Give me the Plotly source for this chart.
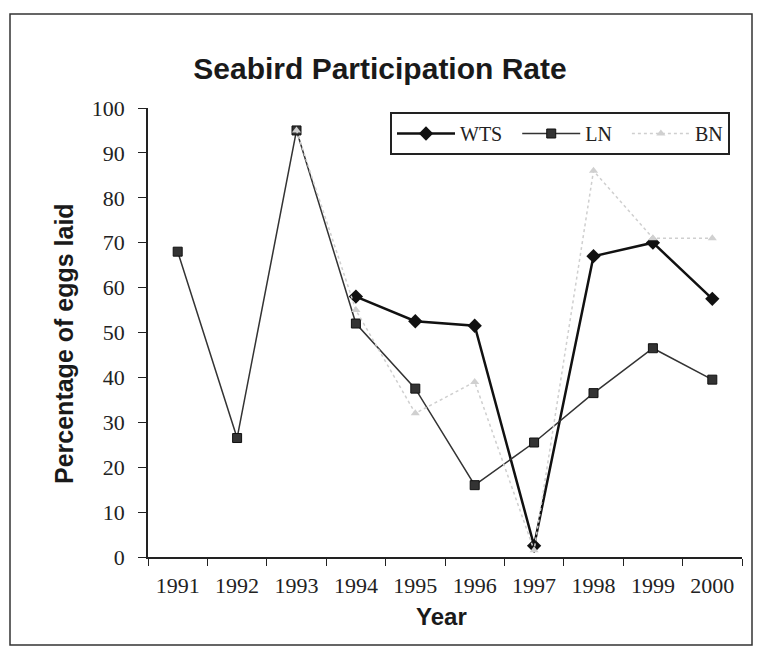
import plotly.graph_objects as go

years = ["1991", "1992", "1993", "1994", "1995", "1996", "1997", "1998", "1999", "2000"]
wts = [None, None, None, 58, 52.5, 51.5, 2.5, 67, 70, 57.5]
ln = [68, 26.5, 95, 52, 37.5, 16, 25.5, 36.5, 46.5, 39.5]
bn = [None, None, 95, 55, 32, 39, 1.5, 86, 71, 71]
yticks = [0, 10, 20, 30, 40, 50, 60, 70, 80, 90, 100]

OFF = 8  # page body margin
W, H = 763 - OFF, 651 - OFF
# plot area in page pixel coords
PL, PR, PT, PB = 148, 742, 108, 557
L, T = PL - OFF, PT - OFF
R, B = W - (PR - OFF), H - (PB - OFF)
pw, ph = PR - PL, PB - PT

def px_x(x):
    return (x - PL) / pw

def px_y(y):
    return (PB - y) / ph

PAD = "\u00a0\u00a0"  # spacing after legend names

fig = go.Figure()
fig.add_trace(go.Scatter(
    x=years, y=wts, name="WTS" + PAD, mode="lines+markers",
    line=dict(color="#111111", width=2.5),
    marker=dict(symbol="diamond", size=11, color="#111111")))
fig.add_trace(go.Scatter(
    x=years, y=ln, name="LN" + PAD, mode="lines+markers",
    line=dict(color="#333333", width=1.5),
    marker=dict(symbol="square", size=9, color="#333333",
                line=dict(color="#111111", width=1))))
fig.add_trace(go.Scatter(
    x=years, y=bn, name="BN", mode="lines+markers",
    line=dict(color="#cfcfcf", width=1.5, dash="dot"),
    marker=dict(symbol="triangle-up", size=8, color="#d0d0d0")))

serif = "Liberation Serif, Times New Roman, serif"
sans = "Liberation Sans, Arial, sans-serif"

fig.update_layout(
    width=W, height=H,
    margin=dict(l=L, r=R, t=T, b=B),
    paper_bgcolor="white", plot_bgcolor="white",
    showlegend=True,
    title=dict(text="<b>Seabird Participation Rate</b>",
               font=dict(family=sans, size=30, color="#1a1a1a"),
               x=(380 - OFF) / W, xref="container", xanchor="center",
               y=1 - (68 - OFF) / H, yref="container", yanchor="middle"),
    legend=dict(orientation="h", x=px_x(390), y=px_y(112),
                xanchor="left", yanchor="top",
                bgcolor="white", bordercolor="#222222", borderwidth=2,
                font=dict(family=serif, size=20, color="#222222"),
                itemwidth=58, tracegroupgap=0),
    font=dict(family=serif, size=22, color="#222222"),
)

fig.update_xaxes(
    type="category", range=[-0.5, 9.5],
    showline=True, linecolor="#222222", linewidth=1.5,
    ticks="outside", tickson="boundaries", ticklen=7, tickcolor="#222222",
    tickfont=dict(family=serif, size=22, color="#222222"),
    ticklabelstandoff=8,
    showgrid=False, zeroline=False, fixedrange=True)
fig.update_yaxes(
    range=[0, 100], tickvals=yticks,
    showline=True, linecolor="#222222", linewidth=1.5,
    ticks="outside", ticklen=8, tickcolor="#222222",
    tickfont=dict(family=serif, size=22, color="#222222"),
    ticklabelstandoff=9,
    showgrid=False, zeroline=False, fixedrange=True)

fig.add_annotation(text="<b>Year</b>", xref="paper", yref="paper",
                   x=px_x(441), y=px_y(616), showarrow=False,
                   xanchor="center", yanchor="middle",
                   font=dict(family=sans, size=24, color="#1a1a1a"))
fig.add_annotation(text="<b>Percentage of eggs laid</b>", xref="paper", yref="paper",
                   x=px_x(64), y=px_y(344), showarrow=False, textangle=-90,
                   xanchor="center", yanchor="middle",
                   font=dict(family=sans, size=25, color="#1a1a1a"))

fig.add_shape(type="rect", xref="paper", yref="paper",
              x0=px_x(10), x1=px_x(752), y0=px_y(645), y1=px_y(14),
              line=dict(color="#333333", width=1.5), layer="below")

fig.write_html("out.html")
